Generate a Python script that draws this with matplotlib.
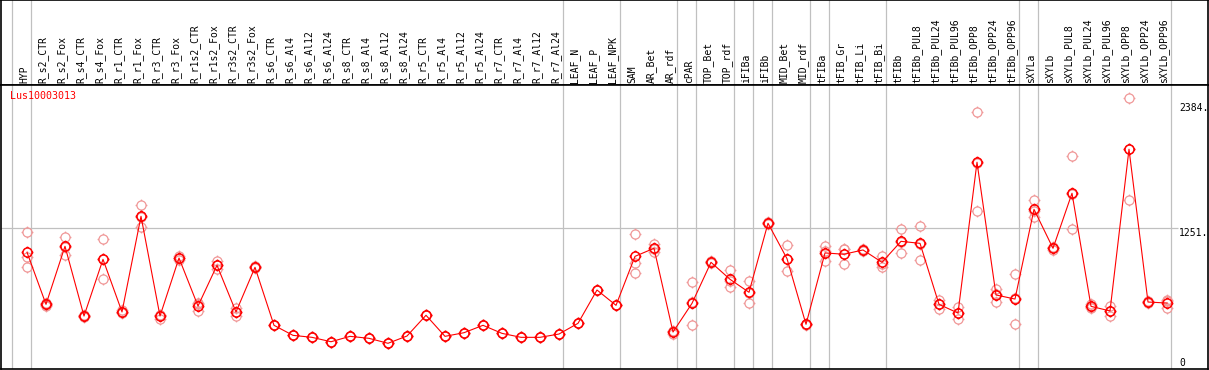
import numpy as np
import matplotlib
matplotlib.use("Agg")
import matplotlib.pyplot as plt
from matplotlib.path import Path

# sample names, left to right
samples = [
    'HYP', 'R_s2_CTR', 'R_s2_Fox', 'R_s4_CTR', 'R_s4_Fox', 'R_r1_CTR', 'R_r1_Fox',
    'R_r3_CTR', 'R_r3_Fox', 'R_r1s2_CTR', 'R_r1s2_Fox', 'R_r3s2_CTR', 'R_r3s2_Fox',
    'R_s6_CTR', 'R_s6_Al4', 'R_s6_Al12', 'R_s6_Al24', 'R_s8_CTR', 'R_s8_Al4',
    'R_s8_Al12', 'R_s8_Al24', 'R_r5_CTR', 'R_r5_Al4', 'R_r5_Al12', 'R_r5_Al24',
    'R_r7_CTR', 'R_r7_Al4', 'R_r7_Al12', 'R_r7_Al24', 'LEAF_N', 'LEAF_P', 'LEAF_NPK',
    'SAM', 'AR_Bet', 'AR_rdf', 'cPAR', 'TOP_Bet', 'TOP_rdf', 'iFIBa', 'iFIBb',
    'MID_Bet', 'MID_rdf', 'tFIBa', 'tFIB_Gr', 'tFIB_Li', 'tFIB_Bi', 'tFIBb',
    'tFIBb_PUL8', 'tFIBb_PUL24', 'tFIBb_PUL96', 'tFIBb_OPP8', 'tFIBb_OPP24', 'tFIBb_OPP96',
    'sXYLa', 'sXYLb', 'sXYLb_PUL8', 'sXYLb_PUL24', 'sXYLb_PUL96', 'sXYLb_OPP8',
    'sXYLb_OPP24', 'sXYLb_OPP96',
]

# mean expression
mean_vals = [
    1031, 559, 1085, 453, 967, 490, 1357, 453, 979, 544, 913, 490, 895,
    369, 278, 260, 220, 269, 251, 206, 272, 460, 269, 302, 369, 296, 260, 260, 290,
    387, 689, 550,
    994, 1067, 308, 568, 940, 786, 668, 1294, 973, 378, 1025, 1013, 1052, 940,
    1130, 1112, 559, 480, 1847, 644, 607,
    1420, 1067, 1566, 541, 499, 1965, 580, 571,
]

# replicates
rep1 = [
    1212, 575, 1167, 460, 1149, 505, 1457, 465, 998, 568, 948, 525, 905,
    369, 278, 260, 220, 269, 251, 206, 272, 460, 269, 302, 369, 296, 260, 260, 290,
    387, 689, 550,
    1197, 1106, 320, 759, 948, 870, 771, 1302, 1094, 370, 1088, 1058, 1058, 997,
    1242, 1269, 598, 532, 2300, 698, 831,
    1502, 1080, 1901, 560, 544, 2427, 585, 596,
]
rep2 = [
    991, 548, 1009, 448, 786, 478, 1263, 430, 965, 502, 875, 455, 885,
    369, 278, 260, 220, 269, 251, 206, 272, 460, 269, 302, 369, 296, 260, 260, 290,
    387, 689, 550,
    931, 1036, 290, 369, 932, 713, 568, 1286, 859, 385, 949, 922, 1046, 895,
    1024, 958, 514, 423, 1405, 583, 378,
    1351, 1048, 1239, 525, 453, 1502, 575, 526,
]
rep3 = [
    900, 555, 1079, 452, 966, 488, 1351, 462, 975, 562, 915, 490, 895,
    369, 278, 260, 220, 269, 251, 206, 272, 460, 269, 302, 369, 296, 260, 260, 290,
    387, 689, 550,
    840, 1059, 314, 576, 940, 775, 665, 1294, 966, 380, 1038, 1059, 1052, 928,
    1124, 1109, 565, 485, 1836, 650, 612,
    1407, 1073, 1558, 538, 500, 1966, 580, 591,
]

# last sample of each group (grey separator drawn after it)
group_ends = [-1, 0, 28, 31, 34, 35, 37, 38, 39, 41, 42, 45, 52, 53, 60]

gene = 'Lus10003013'
axis_marks = [2384, 1251, 0]

# circle marker with four little ticks
circ = Path.unit_circle()
tk = 1.3
ticks = Path([(0, 1), (0, tk), (0, -1), (0, -tk), (1, 0), (tk, 0), (-1, 0), (-tk, 0)],
             [Path.MOVETO, Path.LINETO] * 4)
mk = Path.make_compound_path(circ, ticks)

W, H = 1209, 370
fig = plt.figure(figsize=(W / 100, H / 100), dpi=100)


def px_axes(l, t, r, b):
    return fig.add_axes([l / W, 1 - b / H, (r - l) / W, (b - t) / H])


x = np.arange(len(samples))
xlo, xhi = (1 - 27) / 19, (1208 - 27) / 19
mono = 'DejaVu Sans Mono'
grey = '#c0c0c0'

# header with sample names
hax = px_axes(1, 0, 1208, 85)
hax.set_xlim(xlo, xhi)
hax.set_ylim(85, 0)
hax.set_xticks([])
hax.set_yticks([])
for s in hax.spines.values():
    s.set_linewidth(1.2)
for i, name in enumerate(samples):
    hax.text(i - 3 / 19, 83, name, rotation=90, ha='center', va='bottom',
             fontsize=7, family=mono)
for g in group_ends:
    hax.axvline(g + 0.2, color=grey, lw=0.9)

# plot area
ax = px_axes(1, 85, 1208, 369)
ax.set_xlim(xlo, xhi)
ax.set_ylim(-27, 2547)
ax.set_xticks([])
ax.set_yticks([])
for s in ax.spines.values():
    s.set_linewidth(1.2)
for g in group_ends:
    ax.axvline(g + 0.2, color=grey, lw=0.9, zorder=1)
ax.hlines(axis_marks[1], xlo, (1178 - 27) / 19, color=grey, lw=0.9, zorder=1)

for rep in (rep1, rep2, rep3):
    ax.plot(x, rep, ls='none', marker=mk, ms=8.5, mfc='none', mec='#f09898',
            mew=0.9, zorder=2)
ax.plot(x, mean_vals, color='red', lw=0.8, marker=mk, ms=8.5, mfc='none',
        mec='red', mew=1.1, zorder=3)

lab_x = (1179 - 27) / 19
ax.text(lab_x, axis_marks[0], f'{axis_marks[0]}.', ha='left', va='top', fontsize=7, family=mono)
ax.text(lab_x, axis_marks[1], f'{axis_marks[1]}.', ha='left', va='top', fontsize=7, family=mono)
ax.text(lab_x, axis_marks[2], f'{axis_marks[2]}', ha='left', va='baseline', fontsize=7, family=mono)

fig.text(10 / W, 1 - 96 / H, gene, color='red', ha='left', va='center', fontsize=7.2, family=mono)

fig.savefig('out.png', dpi=100)
